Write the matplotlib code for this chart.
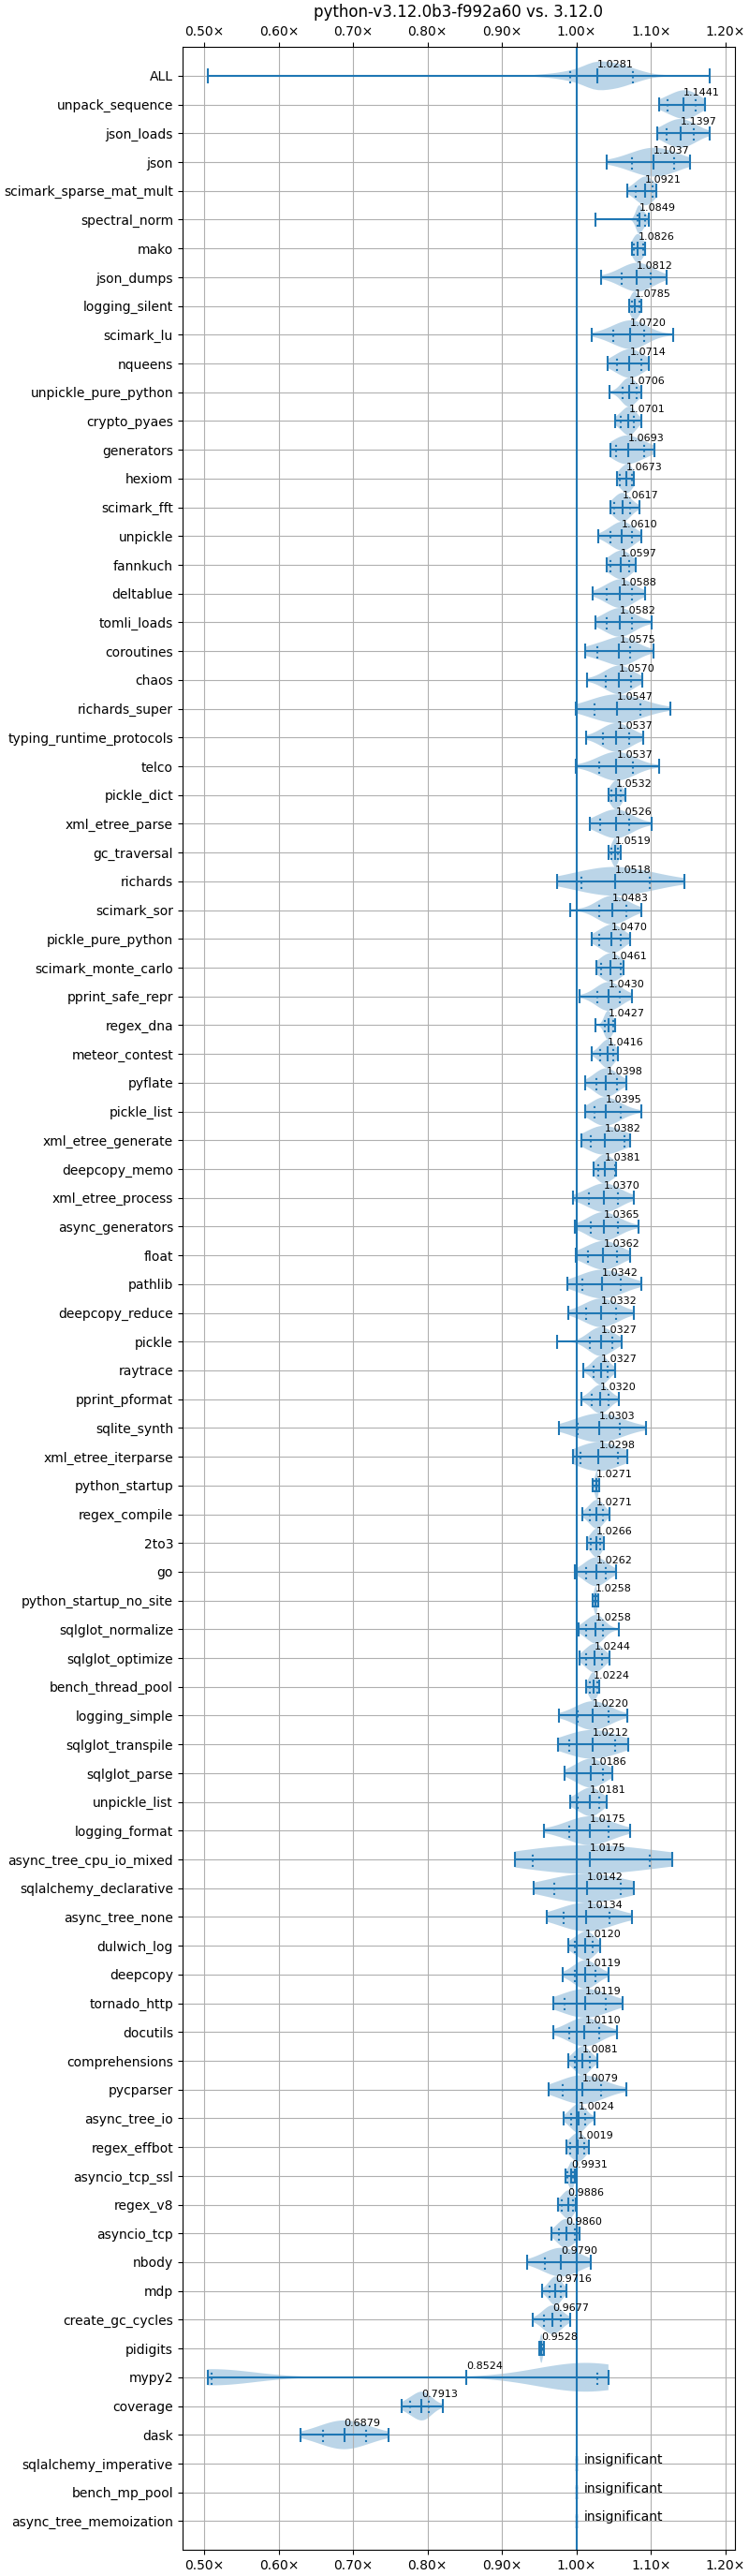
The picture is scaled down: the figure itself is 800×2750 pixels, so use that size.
import matplotlib
matplotlib.use("Agg")
import matplotlib.pyplot as plt
import numpy as np
from matplotlib.ticker import FuncFormatter

title = "python-v3.12.0b3-f992a60 vs. 3.12.0"

# benchmarks, top to bottom. None = insignificant
names = [
    "ALL", "unpack_sequence", "json_loads", "json", "scimark_sparse_mat_mult",
    "spectral_norm", "mako", "json_dumps", "logging_silent", "scimark_lu",
    "nqueens", "unpickle_pure_python", "crypto_pyaes", "generators", "hexiom",
    "scimark_fft", "unpickle", "fannkuch", "deltablue", "tomli_loads",
    "coroutines", "chaos", "richards_super", "typing_runtime_protocols", "telco",
    "pickle_dict", "xml_etree_parse", "gc_traversal", "richards", "scimark_sor",
    "pickle_pure_python", "scimark_monte_carlo", "pprint_safe_repr", "regex_dna",
    "meteor_contest", "pyflate", "pickle_list", "xml_etree_generate",
    "deepcopy_memo", "xml_etree_process", "async_generators", "float", "pathlib",
    "deepcopy_reduce", "pickle", "raytrace", "pprint_pformat", "sqlite_synth",
    "xml_etree_iterparse", "python_startup", "regex_compile", "2to3", "go",
    "python_startup_no_site", "sqlglot_normalize", "sqlglot_optimize",
    "bench_thread_pool", "logging_simple", "sqlglot_transpile", "sqlglot_parse",
    "unpickle_list", "logging_format", "async_tree_cpu_io_mixed",
    "sqlalchemy_declarative", "async_tree_none", "dulwich_log", "deepcopy",
    "tornado_http", "docutils", "comprehensions", "pycparser", "async_tree_io",
    "regex_effbot", "asyncio_tcp_ssl", "regex_v8", "asyncio_tcp", "nbody", "mdp",
    "create_gc_cycles", "pidigits", "mypy2", "coverage", "dask",
    "sqlalchemy_imperative", "bench_mp_pool", "async_tree_memoization",
]

means = [
    1.0281, 1.1441, 1.1397, 1.1037, 1.0921, 1.0849, 1.0826, 1.0812, 1.0785, 1.0720,
    1.0714, 1.0706, 1.0701, 1.0693, 1.0673, 1.0617, 1.0610, 1.0597, 1.0588, 1.0582,
    1.0575, 1.0570, 1.0547, 1.0537, 1.0537, 1.0532, 1.0526, 1.0519, 1.0518, 1.0483,
    1.0470, 1.0461, 1.0430, 1.0427, 1.0416, 1.0398, 1.0395, 1.0382, 1.0381, 1.0370,
    1.0365, 1.0362, 1.0342, 1.0332, 1.0327, 1.0327, 1.0320, 1.0303, 1.0298, 1.0271,
    1.0271, 1.0266, 1.0262, 1.0258, 1.0258, 1.0244, 1.0224, 1.0220, 1.0212, 1.0186,
    1.0181, 1.0175, 1.0175, 1.0142, 1.0134, 1.0120, 1.0119, 1.0119, 1.0110, 1.0081,
    1.0079, 1.0024, 1.0019, 0.9931, 0.9886, 0.9860, 0.9790, 0.9716, 0.9677, 0.9528,
    0.8524, 0.7913, 0.6879, None, None, None,
]

lows = [
    0.5045, 1.1115, 1.109, 1.040, 1.0686, 1.0256, 1.074, 1.0336, 1.071, 1.021,
    1.0416, 1.044, 1.0517, 1.0454, 1.0542, 1.0454, 1.029, 1.040, 1.0214, 1.0252,
    1.0118, 1.0139, 0.9992, 1.0126, 0.9996, 1.0437, 1.0176, 1.0429, 0.9735, 0.9912,
    1.020, 1.0265, 1.0038, 1.0252, 1.020, 1.0118, 1.0118, 1.0063, 1.0231, 0.995,
    0.9975, 0.9992, 0.9874, 0.9887, 0.9735, 1.0088, 1.0063, 0.9765, 0.995, 1.0223,
    1.0076, 1.0139, 0.9975, 1.0214, 1.0034, 1.0046, 1.0126, 0.9765, 0.9748, 0.9836,
    0.9912, 0.9559, 0.9168, 0.942, 0.9605, 0.9887, 0.9811, 0.9685, 0.9693, 0.9887,
    0.9622, 0.9824, 0.9861, 0.9849, 0.9752, 0.966, 0.9336, 0.954, 0.9417, 0.9505,
    0.504, 0.7646, 0.6286, None, None, None,
]

q10s = [
    0.9917, 1.123, 1.121, 1.075, 1.080, 1.082, 1.0769, 1.0605, 1.074, 1.049,
    1.0546, 1.0618, 1.0597, 1.0534, 1.058, 1.0513, 1.0458, 1.0454, 1.0408, 1.040,
    1.0277, 1.039, 1.024, 1.036, 1.031, 1.0466, 1.0315, 1.0475, 1.0071, 1.0303,
    1.031, 1.0336, 1.028, 1.0387, 1.032, 1.0265, 1.024, 1.0197, 1.0298, 1.0164,
    1.0189, 1.0151, 1.008, 1.0126, 1.018, 1.0227, 1.021, 1.002, 1.005, 1.0244,
    1.0176, 1.0189, 1.0126, 1.023, 1.013, 1.0134, 1.0176, 1.0013, 0.9903, 1.0008,
    1.0017, 0.9899, 0.9408, 0.9706, 0.9832, 0.9979, 0.9979, 0.9836, 0.9908, 0.998,
    0.9811, 0.9924, 0.9916, 0.9874, 0.9798, 0.9765, 0.957, 0.9635, 0.956, 0.951,
    0.5094, 0.776, 0.659, None, None, None,
]

q90s = [
    1.0756, 1.160, 1.158, 1.131, 1.102, 1.092, 1.0891, 1.100, 1.085, 1.0908,
    1.087, 1.0807, 1.0777, 1.0908, 1.074, 1.0718, 1.074, 1.071, 1.0748, 1.0752,
    1.0727, 1.073, 1.0857, 1.0714, 1.0756, 1.0597, 1.0714, 1.0555, 1.0983, 1.0672,
    1.0597, 1.0597, 1.0584, 1.049, 1.049, 1.0542, 1.0592, 1.0639, 1.0521, 1.0555,
    1.0563, 1.055, 1.0592, 1.053, 1.0479, 1.042, 1.0429, 1.0584, 1.0563, 1.0286,
    1.0353, 1.0324, 1.0395, 1.0273, 1.0353, 1.0349, 1.0277, 1.0429, 1.0517, 1.0353,
    1.030, 1.0437, 1.0983, 1.0597, 1.0441, 1.0218, 1.026, 1.0391, 1.0303, 1.0176,
    1.0336, 1.0113, 1.0101, 0.995, 0.995, 0.9983, 1.000, 0.979, 0.979, 0.9545,
    1.0286, 0.802, 0.7177, None, None, None,
]

highs = [
    1.179, 1.1724, 1.179, 1.153, 1.1077, 1.0974, 1.0924, 1.121, 1.0874, 1.130,
    1.097, 1.087, 1.087, 1.1046, 1.0777, 1.0845, 1.0874, 1.0794, 1.092, 1.1004,
    1.103, 1.089, 1.1256, 1.0903, 1.111, 1.0664, 1.1004, 1.0592, 1.145, 1.087,
    1.0727, 1.063, 1.0744, 1.0517, 1.0555, 1.0676, 1.087, 1.0718, 1.0538, 1.0765,
    1.0832, 1.0727, 1.0878, 1.0765, 1.0605, 1.0517, 1.0567, 1.0933, 1.068, 1.030,
    1.0441, 1.037, 1.053, 1.029, 1.0567, 1.0441, 1.030, 1.068, 1.0697, 1.0479,
    1.0403, 1.0723, 1.1286, 1.0765, 1.0752, 1.0315, 1.0429, 1.0626, 1.0542, 1.0277,
    1.0668, 1.024, 1.0164, 0.9975, 0.9996, 1.0038, 1.019, 0.987, 0.992, 0.9557,
    1.043, 0.8198, 0.748, None, None, None,
]

# mypy2 is bimodal, so its shape gets its own sample values
mypy2_samples = [0.504, 0.506, 0.51, 0.52, 0.95, 0.98, 1.0, 1.01, 1.02, 1.03, 1.04, 1.043]

# how much each of (min, q10, mean, q90, max) counts in the violin shape
shape_weights = [0.3, 2, 4, 2, 0.3]


def density(points, weights, bw, coords):
    p = np.asarray(points)[:, None]
    w = np.asarray(weights)[:, None]
    return (w * np.exp(-0.5 * ((coords[None, :] - p) / bw) ** 2)).sum(axis=0)


def make_stats(lo, q10, mean, q90, hi, points, weights, bw):
    coords = np.linspace(lo, hi, 100)
    return dict(coords=coords, vals=density(points, weights, bw, coords),
                mean=mean, median=mean, min=lo, max=hi,
                quantiles=np.array([q10, q90]))


n = len(names)
positions = np.arange(n, 0, -1)

all_points = []
all_weights = []
vpstats = [None] * n
for i in range(n):
    if means[i] is None:
        vpstats[i] = dict(coords=np.array([1.0, 1.0]), vals=np.array([1.0, 1.0]),
                          mean=1.0, median=1.0, min=1.0, max=1.0,
                          quantiles=np.array([1.0, 1.0]))
        continue
    if names[i] == "ALL":
        continue
    if names[i] == "mypy2":
        pts = mypy2_samples
        wts = [1.0] * len(pts)
        bw = 0.057
    else:
        pts = [lows[i], q10s[i], means[i], q90s[i], highs[i]]
        wts = shape_weights
        bw = (q90s[i] - q10s[i]) / 2.5
    all_points.extend(pts)
    all_weights.extend(np.asarray(wts) / np.sum(wts))
    vpstats[i] = make_stats(lows[i], q10s[i], means[i], q90s[i], highs[i], pts, wts, bw)

i_all = names.index("ALL")
vpstats[i_all] = make_stats(lows[i_all], q10s[i_all], means[i_all], q90s[i_all],
                            highs[i_all], all_points, all_weights, 0.012)

fig, ax = plt.subplots(figsize=(8, 2 + (n - 1) * 0.3), layout="constrained")
plt.axvline(1.0)

violin = ax.violin(vpstats, positions=positions, orientation="horizontal",
                   widths=1.0, showmeans=True, showextrema=True, showmedians=False)
violin["cquantiles"].set_linestyle(":")

for i in range(n):
    if means[i] is None:
        ax.text(1.01, positions[i], "insignificant")
    else:
        ax.text(means[i], positions[i] + 0.3, f"{means[i]:.4f}", size=8)

ax.set_yticks(positions, names)
ax.set_ylim(0, n + 1)
ax.tick_params(axis="x", bottom=True, top=True, labelbottom=True, labeltop=True)
ax.xaxis.set_major_formatter(FuncFormatter(lambda x, pos: f"{x:.2f}\u00d7"))
ax.grid()
ax.set_title(title)

plt.savefig("out.png")
